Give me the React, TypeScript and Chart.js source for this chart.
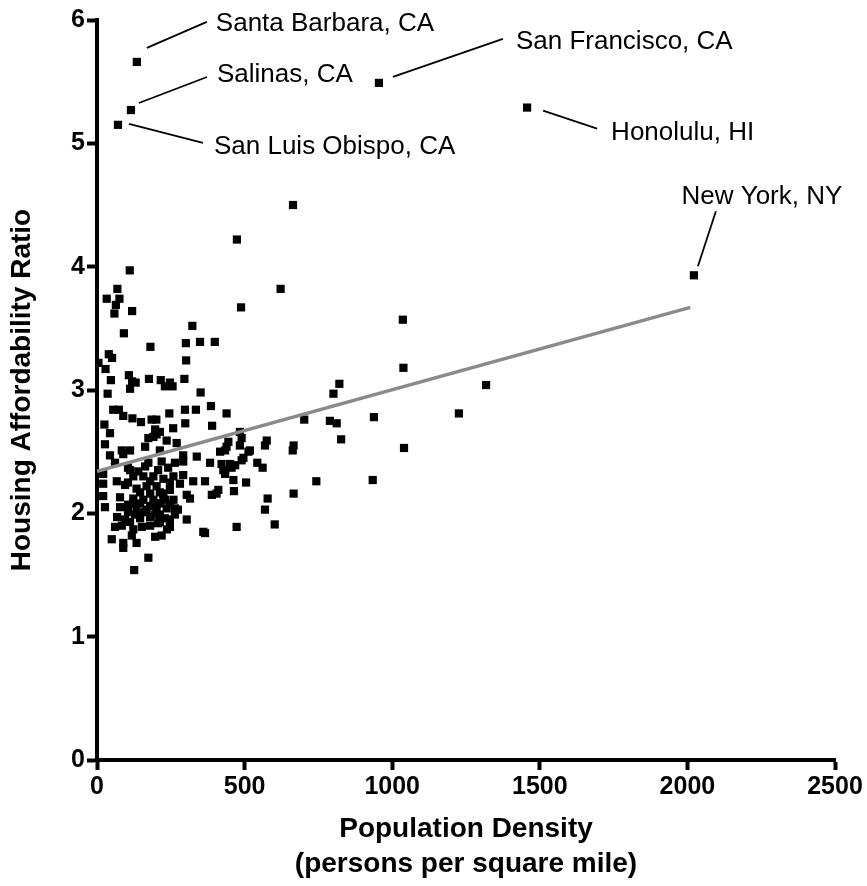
import React, { useEffect, useRef } from "react";
import { Chart, registerables } from "chart.js";

Chart.register(...registerables);

// Labelled metros
const outlierCities = [
  "Santa Barbara, CA",
  "Salinas, CA",
  "San Luis Obispo, CA",
  "San Francisco, CA",
  "Honolulu, HI",
  "New York, NY",
];
const outlierDensity = [135, 115, 71, 955, 1457, 2022];
const outlierRatio = [5.66, 5.27, 5.15, 5.49, 5.29, 3.93];

// Other metros (population density, housing affordability ratio)
const metroDensity = [
  664, 474, 111, 622, 488, 1036, 1038, 1318, 1226, 1040,
  821, 801, 702, 789, 812, 938, 827, 575, 569, 666, 663, 518, 543, 561, 743, 934, 578, 666, 569, 602,
  69, 33, 76, 64, 59, 119, 323, 91, 181, 301, 349, 399, 40, 51, 302, 5, 29, 47, 108, 119, 131, 112,
  176, 216, 247, 230, 256, 296, 36, 351, 55, 74, 89, 120, 149, 185, 201, 245, 298, 335, 386, 439,
  25, 44, 299, 390, 258, 197, 213, 191, 174, 27,
  484, 490, 445, 439, 417, 434, 484, 513, 422, 451, 468, 490, 434, 456, 411, 405, 462, 505, 464, 473,
  202, 236, 270, 84, 112, 44, 89, 163, 213, 292, 338, 61, 174, 219, 264, 292, 383, 428, 496, 21,
  112, 140, 434, 67, 21, 123, 157, 191, 225, 259, 292, 326, 366, 134, 168, 202, 247, 281, 389, 21,
  78, 304, 315, 123, 157, 191, 225, 259, 27, 78, 134, 168, 202, 236, 264, 146, 180, 213, 247, 304,
  112, 61, 84, 180, 247, 123, 360, 366, 50, 197, 219, 118, 89, 89, 134, 174, 126,
  105, 163, 207, 241, 95, 146, 180, 213, 230, 105, 146, 180, 213, 163, 197, 129, 230, 264, 105, 152,
  207, 237, 68,
  105, 180, 247, 224, 122, 197, 247, 146, 274, 95, 213,
];
const metroRatio = [
  4.5, 4.22, 3.97, 3.82, 3.67, 3.57, 3.18, 3.04, 2.81, 2.53,
  3.05, 2.97, 2.76, 2.75, 2.73, 2.78, 2.6, 2.59, 2.55, 2.55, 2.51, 2.51, 2.41, 2.37, 2.26, 2.27, 2.12, 2.16, 2.03, 1.91,
  3.82, 3.74, 3.74, 3.69, 3.62, 3.64, 3.52, 3.46, 3.35, 3.38, 3.39, 3.39, 3.29, 3.26, 3.24, 3.22, 3.17, 3.08, 3.12, 3.07, 3.06, 3.01,
  3.09, 3.08, 3.06, 3.03, 3.03, 3.09, 2.97, 2.98, 2.84, 2.84, 2.79, 2.77, 2.74, 2.76, 2.76, 2.81, 2.84, 2.84, 2.87, 2.81,
  2.72, 2.65, 2.73, 2.71, 2.69, 2.68, 2.66, 2.62, 2.61, 2.56,
  2.66, 2.61, 2.58, 2.54, 2.5, 2.51, 2.55, 2.5, 2.4, 2.4, 2.39, 2.43, 2.35, 2.37, 2.19, 2.16, 2.27, 2.25, 2.18, 1.89,
  2.64, 2.59, 2.57, 2.51, 2.51, 2.47, 2.48, 2.54, 2.51, 2.47, 2.46, 2.41, 2.41, 2.42, 2.41, 2.42, 2.41, 2.35, 2.45, 2.32,
  2.35, 2.34, 2.32, 2.26, 2.24, 2.3, 2.3, 2.3, 2.28, 2.3, 2.31, 2.26, 2.26, 2.2, 2.22, 2.22, 2.19, 2.24, 2.15, 2.14,
  2.13, 2.15, 2.12, 2.12, 2.11, 2.11, 2.12, 2.11, 2.05, 2.05, 2.04, 2.03, 2.03, 2.04, 2.04, 1.96, 1.97, 1.99, 1.95, 1.95,
  1.93, 1.89, 1.9, 1.9, 1.89, 1.87, 1.85, 1.84, 1.79, 1.81, 1.82, 1.82, 1.76, 1.72, 1.76, 1.64, 1.54,
  2.37, 2.38, 2.35, 2.37, 2.23, 2.17, 2.16, 2.17, 2.11, 2.07, 2.08, 2.06, 2.08, 2.01, 1.99, 1.99, 1.96, 1.99, 2.01, 1.89,
  1.92, 1.87, 1.97,
  2.25, 2.26, 2.25, 2.16, 2.08, 2.08, 2.08, 2.0, 2.03, 1.95, 1.93,
];

// Linear fit endpoints
const fitDensity = [0, 2010];
const fitRatio = [2.34, 3.67];

// Axis ranges
const xRange = [0, 2500];
const xStep = 500;
const yRange = [0, 6];
const yStep = 1;

// Callout layout, pixel offsets from each labelled point
const calloutLayout = [
  { line: [10, -14, 70, -40], text: [79, -38], align: "left" },
  { line: [8, -7, 76, -33], text: [86, -35], align: "left" },
  { line: [11, -1, 85, 18], text: [96, 22], align: "left" },
  { line: [14, -6, 124, -44], text: [137, -41], align: "left" },
  { line: [16, 3, 70, 21], text: [84, 25], align: "left" },
  { line: [4, -9, 22, -64], text: [68, -78], align: "center" },
];

const FONT = '"Liberation Sans", Arial, Helvetica, sans-serif';

const calloutPlugin = {
  id: "callouts",
  afterDatasetsDraw(chart: any) {
    const { ctx } = chart;
    const xs = chart.scales.x;
    const ys = chart.scales.y;
    ctx.save();
    ctx.strokeStyle = "#000";
    ctx.fillStyle = "#000";
    ctx.lineWidth = 1.8;
    ctx.font = `26px ${FONT}`;
    ctx.textBaseline = "middle";
    outlierCities.forEach((name, i) => {
      const px = xs.getPixelForValue(outlierDensity[i]);
      const py = ys.getPixelForValue(outlierRatio[i]);
      const c = calloutLayout[i];
      ctx.beginPath();
      ctx.moveTo(px + c.line[0], py + c.line[1]);
      ctx.lineTo(px + c.line[2], py + c.line[3]);
      ctx.stroke();
      ctx.textAlign = c.align;
      ctx.fillText(name, px + c.text[0], py + c.text[1]);
    });
    ctx.restore();
  },
};

export default function App() {
  const canvasRef = useRef<HTMLCanvasElement | null>(null);

  useEffect(() => {
    document.body.style.margin = "0";
    const canvas = canvasRef.current;
    if (!canvas) return;

    const tickFont = { family: FONT, size: 25, weight: "bold" as const };
    const titleFont = { family: FONT, size: 28, weight: "bold" as const };
    const plain = (v: any) => String(v);

    const chart = new Chart(canvas, {
      type: "scatter",
      data: {
        datasets: [
          {
            label: "fit",
            data: fitDensity.map((d, i) => ({ x: d, y: fitRatio[i] })),
            showLine: true,
            borderColor: "#8a8a8a",
            borderWidth: 3.5,
            pointRadius: 0,
            fill: false,
          },
          {
            label: "labelled",
            data: outlierDensity.map((d, i) => ({ x: d, y: outlierRatio[i] })),
            pointStyle: "rect",
            pointRadius: 5.8,
            backgroundColor: "#000",
            borderWidth: 0,
          },
          {
            label: "metros",
            data: metroDensity.map((d, i) => ({ x: d, y: metroRatio[i] })),
            pointStyle: "rect",
            pointRadius: 5.8,
            backgroundColor: "#000",
            borderWidth: 0,
          },
        ],
      },
      options: {
        animation: false,
        responsive: false,
        events: [],
        layout: { padding: { top: 20, right: 32, left: 0, bottom: 0 } },
        plugins: {
          legend: { display: false },
          tooltip: { enabled: false },
        },
        scales: {
          x: {
            type: "linear",
            min: xRange[0],
            max: xRange[1],
            ticks: {
              stepSize: xStep,
              color: "#000",
              font: tickFont,
              padding: 2,
              maxRotation: 0,
              callback: plain,
            },
            grid: {
              drawOnChartArea: false,
              drawTicks: true,
              tickLength: 10,
              tickWidth: 4,
              tickColor: "#000",
            },
            border: { display: true, color: "#000", width: 4 },
            title: {
              display: true,
              text: ["Population Density", "(persons per square mile)"],
              color: "#000",
              font: { ...titleFont, lineHeight: 1.22 },
              padding: { top: 0, bottom: 5 },
            },
            afterFit(axis: any) {
              axis.height = 126;
            },
          },
          y: {
            type: "linear",
            min: yRange[0],
            max: yRange[1],
            ticks: {
              stepSize: yStep,
              color: "#000",
              font: tickFont,
              padding: 2,
              callback: plain,
            },
            grid: {
              drawOnChartArea: false,
              drawTicks: true,
              tickLength: 10,
              tickWidth: 4,
              tickColor: "#000",
            },
            border: { display: true, color: "#000", width: 4 },
            title: {
              display: true,
              text: "Housing Affordability Ratio",
              color: "#000",
              font: titleFont,
              padding: { top: 5, bottom: 0 },
            },
            afterFit(axis: any) {
              axis.width = 97;
            },
          },
        },
      },
      plugins: [calloutPlugin],
    } as any);

    return () => {
      chart.destroy();
    };
  }, []);

  return (
    <div style={{ width: 867, height: 886 }}>
      <canvas ref={canvasRef} width={867} height={886} style={{ display: "block" }} />
    </div>
  );
}
